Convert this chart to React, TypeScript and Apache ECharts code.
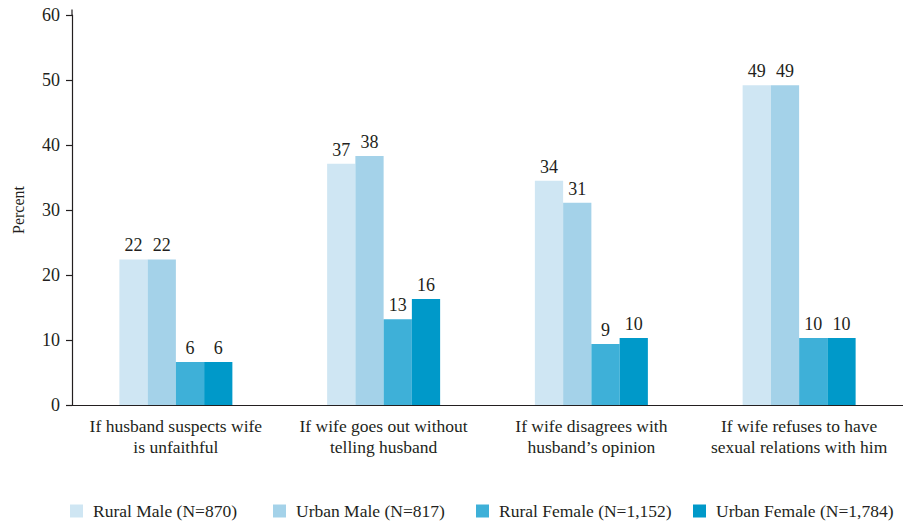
import React, { useEffect, useRef } from "react";
import * as echarts from "echarts";

const categories = [
  "If husband suspects wife\nis unfaithful",
  "If wife goes out without\ntelling husband",
  "If wife disagrees with\nhusband\u2019s opinion",
  "If wife refuses to have\nsexual relations with him",
];

const seriesNames = [
  "Rural Male (N=870)",
  "Urban Male (N=817)",
  "Rural Female (N=1,152)",
  "Urban Female (N=1,784)",
];

// bar heights (percent)
const ruralMale = [22.4, 37.1, 34.5, 49.2];
const urbanMale = [22.4, 38.3, 31.1, 49.2];
const ruralFemale = [6.6, 13.2, 9.4, 10.3];
const urbanFemale = [6.6, 16.3, 10.3, 10.3];

// printed labels
const ruralMaleLabels = [22, 37, 34, 49];
const urbanMaleLabels = [22, 38, 31, 49];
const ruralFemaleLabels = [6, 13, 9, 10];
const urbanFemaleLabels = [6, 16, 10, 10];

const yTicks = { min: 0, max: 60, interval: 10 };

const colors = ["#cfe6f3", "#a4d2e9", "#3eb0d8", "#0099c9"];
const legendLefts = [65, 268, 471, 688];

const FONT = "serif";
const TEXT = "#231f20";

export default function App() {
  const ref = useRef<HTMLDivElement>(null);

  useEffect(() => {
    if (!ref.current) return;
    const chart = echarts.init(ref.current, null, { renderer: "svg" });
    const values = [ruralMale, urbanMale, ruralFemale, urbanFemale];
    const labels = [ruralMaleLabels, urbanMaleLabels, ruralFemaleLabels, urbanFemaleLabels];

    chart.setOption({
      animation: false,
      textStyle: { fontFamily: FONT, color: TEXT },
      grid: { left: 72, top: 15, width: 836, height: 390, containLabel: false },
      legend: seriesNames.map((n, i) => ({
        data: [n],
        left: legendLefts[i],
        top: 497,
        itemWidth: 13,
        itemHeight: 13,
        icon: "rect",
        selectedMode: false,
        textStyle: { fontFamily: FONT, fontSize: 17.5, color: TEXT, padding: [0, 0, 0, 5] },
      })),
      xAxis: {
        type: "category",
        data: categories,
        axisLine: { lineStyle: { color: TEXT, width: 1.2 } },
        axisTick: { length: 7, lineStyle: { color: TEXT, width: 1.2 } },
        axisLabel: {
          fontFamily: FONT,
          fontSize: 17.5,
          color: TEXT,
          lineHeight: 21,
          margin: 10,
          interval: 0,
        },
      },
      yAxis: {
        type: "value",
        min: yTicks.min,
        max: yTicks.max,
        interval: yTicks.interval,
        name: "Percent",
        nameLocation: "middle",
        nameRotate: 90,
        nameGap: 46,
        nameTextStyle: { fontFamily: FONT, fontSize: 16, color: TEXT },
        splitLine: { show: false },
        axisLine: { show: true, lineStyle: { color: TEXT, width: 1.2 } },
        axisTick: { show: true, length: 6, lineStyle: { color: TEXT, width: 1.2 } },
        axisLabel: { fontFamily: FONT, fontSize: 18, color: TEXT, margin: 12 },
      },
      graphic: [
        {
          type: "line",
          shape: { x1: 72, y1: 9.5, x2: 72, y2: 15 },
          style: { stroke: TEXT, lineWidth: 1.2 },
        },
      ],
      series: seriesNames.map((n, i) => ({
        name: n,
        type: "bar",
        data: values[i],
        barWidth: 28.25,
        barGap: "0%",
        itemStyle: { color: colors[i] },
        label: {
          show: true,
          position: "top",
          distance: 5,
          fontFamily: FONT,
          fontSize: 18,
          color: TEXT,
          formatter: (p: any) => String(labels[i][p.dataIndex]),
        },
      })),
    });
    return () => chart.dispose();
  }, []);

  return <div ref={ref} style={{ width: 903, height: 523, position: "absolute", left: 0, top: 0 }} />;
}
